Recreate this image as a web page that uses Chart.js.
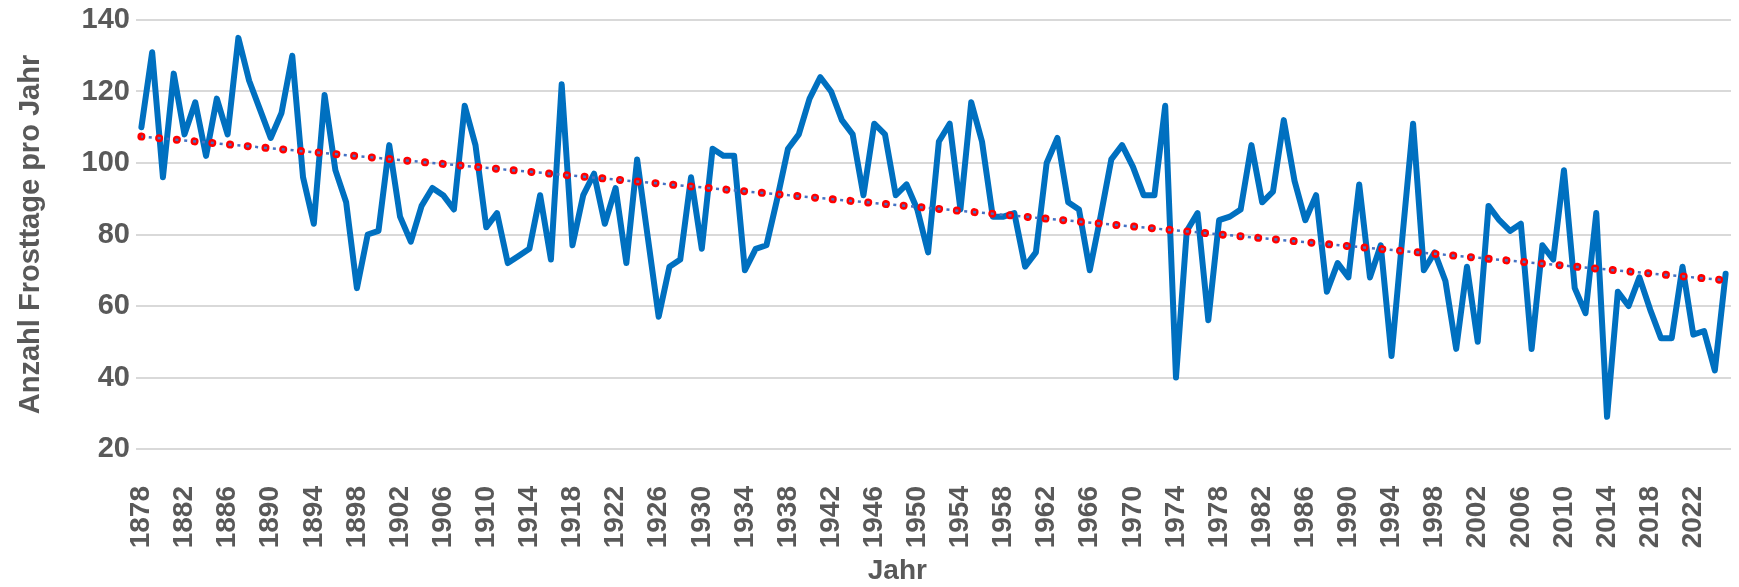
<!DOCTYPE html>
<html>
<head>
<meta charset="utf-8">
<script src="https://cdn.jsdelivr.net/npm/chart.js@4.4.1/dist/chart.umd.min.js"></script>
<style>
  html, body { margin: 0; padding: 0; background: #fff; }
  #chart { display: block; }
</style>
</head>
<body>
<canvas id="chart" width="1739" height="587"></canvas>
<script>
// ---- data ----
const years = [
  '1878','1879','1880','1881','1882','1883','1884','1885','1886','1887',
  '1888','1889','1890','1891','1892','1893','1894','1895','1896','1897',
  '1898','1899','1900','1901','1902','1903','1904','1905','1906','1907',
  '1908','1909','1910','1911','1912','1913','1914','1915','1916','1917',
  '1918','1919','1920','1921','1922','1923','1924','1925','1926','1927',
  '1928','1929','1930','1931','1932','1933','1934','1935','1936','1937',
  '1938','1939','1940','1941','1942','1943','1944','1945','1946','1947',
  '1948','1949','1950','1951','1952','1953','1954','1955','1956','1957',
  '1958','1959','1960','1961','1962','1963','1964','1965','1966','1967',
  '1968','1969','1970','1971','1972','1973','1974','1975','1976','1977',
  '1978','1979','1980','1981','1982','1983','1984','1985','1986','1987',
  '1988','1989','1990','1991','1992','1993','1994','1995','1996','1997',
  '1998','1999','2000','2001','2002','2003','2004','2005','2006','2007',
  '2008','2009','2010','2011','2012','2013','2014','2015','2016','2017',
  '2018','2019','2020','2021','2022','2023','2024','2025'
];

const frostDays = [
  110, 131,  96, 125, 108, 117, 102, 118, 108, 135,
  123, 115, 107, 114, 130,  96,  83, 119,  98,  89,
   65,  80,  81, 105,  85,  78,  88,  93,  91,  87,
  116, 105,  82,  86,  72,  74,  76,  91,  73, 122,
   77,  91,  97,  83,  93,  72, 101,  79,  57,  71,
   73,  96,  76, 104, 102, 102,  70,  76,  77,  90,
  104, 108, 118, 124, 120, 112, 108,  91, 111, 108,
   91,  94,  87,  75, 106, 111,  87, 117, 106,  85,
   85,  86,  71,  75, 100, 107,  89,  87,  70,  85,
  101, 105,  99,  91,  91, 116,  40,  81,  86,  56,
   84,  85,  87, 105,  89,  92, 112,  95,  84,  91,
   64,  72,  68,  94,  68,  77,  46,  79, 111,  70,
   75,  67,  48,  71,  50,  88,  84,  81,  83,  48,
   77,  73,  98,  65,  58,  86,  29,  64,  60,  68,
   59,  51,  51,  71,  52,  53,  42,  69
];

// linear trend (start / end)
const trendYears = ['1878', '2025'];
const trendValues = [107.4, 67.2];

const yMin = 20;
const yMax = 140;
const yStep = 20;
const labelEvery = 4;

const yTitle = 'Anzahl Frosttage pro Jahr';
const xTitle = 'Jahr';

// ---- styles ----
const textGray = '#595959';
const gridGray = '#d9d9d9';
const fontFamily = '"Liberation Sans", Arial, sans-serif';

const trendPoints = trendYears.map((y, i) => ({ x: y, y: trendValues[i] }));

// x axis title drawn by hand so it can sit where the original has it
const xTitlePlugin = {
    id: 'xTitle',
    afterDraw(chart) {
        const c = chart.ctx;
        c.save();
        c.font = 'bold 28px ' + fontFamily;
        c.fillStyle = textGray;
        c.textAlign = 'center';
        c.textBaseline = 'middle';
        c.fillText(xTitle, chart.width * 0.516, chart.height - 16);
        c.restore();
    }
};

const ctx = document.getElementById('chart').getContext('2d');
new Chart(ctx, {
    type: 'line',
    data: {
        labels: years,
        datasets: [
            {
                // blue dash-dot part of the trend line, on top
                label: 'Trend',
                data: trendPoints,
                borderColor: '#4472c4',
                borderWidth: 2.5,
                borderDash: [3, 5.9],
                borderDashOffset: 1.5,
                pointRadius: 0,
                fill: false,
                order: 1
            },
            {
                // red round dots of the trend line
                label: 'Trend dots',
                data: trendPoints,
                borderColor: '#ff0000',
                borderWidth: 8,
                borderDash: [0.01, 17.79],
                borderCapStyle: 'round',
                pointRadius: 0,
                fill: false,
                order: 2
            },
            {
                label: 'Frosttage',
                data: frostDays,
                borderColor: '#0070c0',
                borderWidth: 6,
                borderJoinStyle: 'round',
                borderCapStyle: 'round',
                pointRadius: 0,
                tension: 0,
                fill: false,
                order: 3
            }
        ]
    },
    options: {
        responsive: false,
        animation: false,
        devicePixelRatio: 1,
        layout: { padding: { left: 0, right: 8, top: 20, bottom: 0 } },
        plugins: {
            legend: { display: false },
            tooltip: { enabled: false }
        },
        scales: {
            x: {
                type: 'category',
                offset: true,
                grid: { display: false, drawTicks: false },
                border: { display: false },
                ticks: {
                    autoSkip: false,
                    minRotation: 90,
                    maxRotation: 90,
                    padding: 37,
                    color: textGray,
                    font: { family: fontFamily, size: 28, weight: 'bold' },
                    callback: function (val, idx) {
                        return idx % labelEvery === 0 ? this.getLabelForValue(val) : '';
                    }
                },
                afterFit: function (scale) {
                    scale.height = 138;
                    scale.paddingLeft = 0;
                    scale.paddingRight = 0;
                }
            },
            y: {
                min: yMin,
                max: yMax,
                grid: { color: gridGray, lineWidth: 2, drawTicks: false },
                border: { display: false },
                ticks: {
                    stepSize: yStep,
                    padding: 6,
                    color: textGray,
                    font: { family: fontFamily, size: 29, weight: 'bold' }
                },
                title: {
                    display: true,
                    text: yTitle,
                    color: textGray,
                    font: { family: fontFamily, size: 29, weight: 'bold' },
                    padding: { top: 14, bottom: 0 }
                },
                afterFit: function (scale) {
                    scale.width = 136;
                    scale.paddingTop = 0;
                    scale.paddingBottom = 0;
                }
            }
        }
    },
    plugins: [xTitlePlugin]
});
</script>
</body>
</html>
